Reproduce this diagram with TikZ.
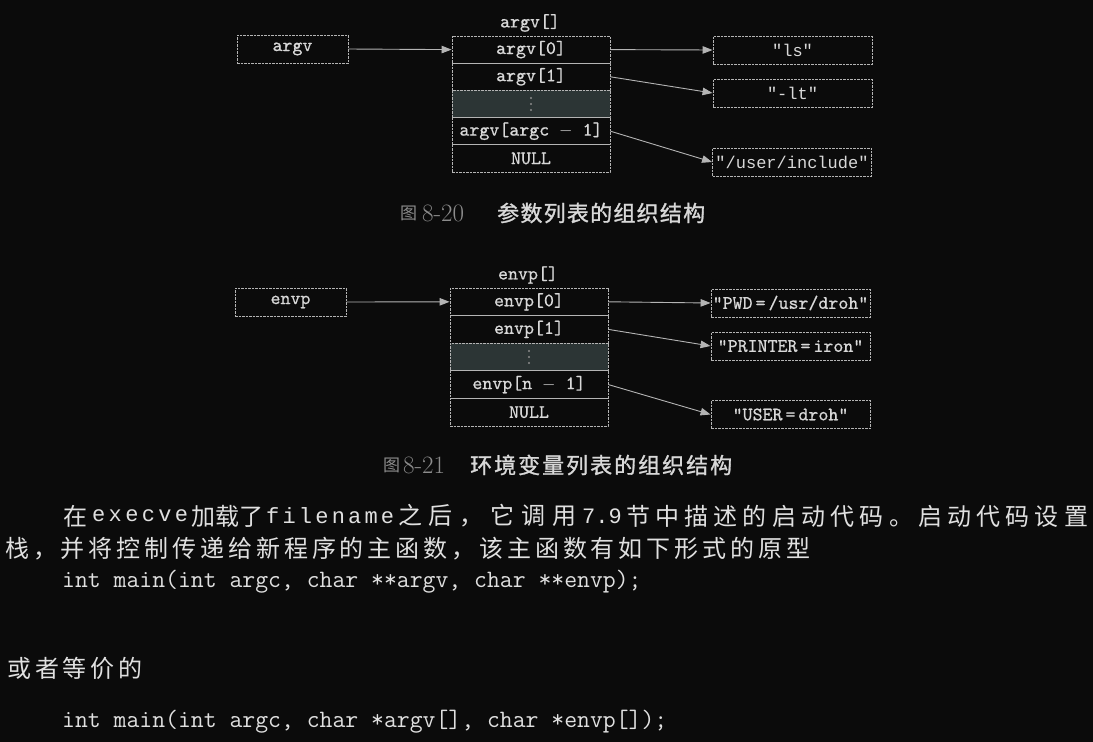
\documentclass[tikz,border=0pt]{standalone}
\usepackage{fontspec}
\usetikzlibrary{arrows.meta}
\newfontfamily\cjk{Noto Sans CJK SC}
\newfontfamily\cjkcapfont{Noto Sans CJK SC}[FakeBold=1.2]
\newfontfamily\thinmono{Liberation Mono}
\newfontfamily\diagmono{lmmono10-regular.otf}[FakeBold=0.7]
\definecolor{bg}{HTML}{0B0B0B}
\definecolor{fg}{HTML}{D8D8D8}
\definecolor{ln}{HTML}{B4B4B4}
\definecolor{cellfill}{HTML}{2C3535}
\definecolor{dim}{HTML}{8C8C8C}
\definecolor{bodyfg}{HTML}{E0E0E0}
% inter-character spacing for CJK
\newdimen\cjkgapamt \cjkgapamt=3.9pt
\newcommand\cjkgap{\hskip\cjkgapamt plus 8pt minus \cjkgapamt}
\newcount\cjkc
\cjkc="4E00
\loop \XeTeXcharclass\cjkc=5 \advance\cjkc by 1 \ifnum\cjkc<"A000 \repeat
\XeTeXcharclass"FF0C=5
\XeTeXcharclass"3002=5
\XeTeXinterchartoks 5 5 = {\cjkgap}
\XeTeXinterchartokenstate=1
\newcommand\cjkbody{\cjk\fontsize{24}{24}\selectfont}
\newcommand\cjkcap{\cjkcapfont\fontsize{22}{22}\selectfont\cjkgapamt=2pt }
\newcommand\thinbody{\thinmono\fontsize{22}{22}\selectfont}
\newcommand\codebody{\ttfamily\fontsize{25}{25}\selectfont}
\tikzset{
  lbox/.style={draw=ln, line width=0.9pt, dash pattern=on 2.5pt off 1pt, inner sep=0pt,
    text=fg, font=\diagmono\fontsize{19}{19}\selectfont, minimum height=28pt},
  cell/.style={lbox, minimum width=158pt, minimum height=27.2pt},
  darkcell/.style={cell, fill=cellfill},
  arrtitle/.style={inner sep=0pt, text=fg, font=\diagmono\fontsize{19}{19}\selectfont},
  strA/.style={lbox, minimum width=159pt, font=\thinmono\fontsize{17}{17}\selectfont},
  strB/.style={lbox, minimum width=159pt},
  ptrbox/.style={lbox, minimum width=111pt},
  arr/.style={draw=ln, line width=0.9pt, -{Triangle[length=10pt,width=7.5pt]}},
  seg/.style={anchor=west, inner sep=0pt, text=bodyfg},
  capnum/.style={anchor=west, inner sep=0pt, text=dim},
  dotmark/.style={fill=dim},
}
\begin{document}
\begin{tikzpicture}[x=1pt,y=-1pt]
\fill[bg] (0,0) rectangle (1093,742);
\useasboundingbox (0,0) rectangle (1093,742);

% ---------- Figure 8-20 ----------
\node[arrtitle] (argvt) at (530,23) {argv[]};
\node[ptrbox] (argv) at (292.5,49) {argv};
\node[cell] (a0) at (531,49.6) {argv[0]};
\node[cell] (a1) at (531,76.8) {argv[1]};
\node[darkcell] (a2) at (531,104) {};
\node[cell] (a3) at (531,131.2) {argv[argc $-$ 1]};
\node[cell] (a4) at (531,158.4) {NULL};
\fill[dotmark] (a2.center) ++(0,-6) circle (1.2) ++(0,6) circle (1.2) ++(0,6) circle (1.2);
\node[strA] (ls) at (792.5,50) {"ls"};
\node[strA] (lt) at (792.5,93) {"-lt"};
\node[strA] (inc) at (792,162) {"/user/include"};
\draw[arr] (argv.east) -- (a0.west);
\draw[arr] (a0.east) -- (ls.west);
\draw[arr] (a1.east) -- (lt.west);
\draw[arr] (a3.east) -- (inc.west);

\node[capnum] (c1a) at (400,213) {\cjk\fontsize{17}{17}\selectfont 图};
\node[capnum] (c1b) at (422,213) {\rmfamily\fontsize{25}{25}\selectfont 8-20};
\node[seg, text=fg] (c1c) at (497,213) {\cjkcap\hbox to 208pt{参数列表的组织结构}};

% ---------- Figure 8-21 ----------
\node[arrtitle] (envpt) at (528,275) {envp[]};
\node[ptrbox] (envp) at (290.5,302) {envp};
\node[cell, minimum height=27.6pt] (e0) at (529,301.8) {envp[0]};
\node[cell, minimum height=27.6pt] (e1) at (529,329.4) {envp[1]};
\node[darkcell, minimum height=27.6pt] (e2) at (529,357) {};
\node[cell, minimum height=27.6pt] (e3) at (529,384.6) {envp[n $-$ 1]};
\node[cell, minimum height=27.6pt] (e4) at (529,412.2) {NULL};
\fill[dotmark] (e2.center) ++(0,-6) circle (1.2) ++(0,6) circle (1.2) ++(0,6) circle (1.2);
\node[strB] (pwd) at (790.5,303) {"PWD\kern3pt=\kern3pt/usr/droh"};
\node[strB] (prn) at (790.5,346) {"PRINTER\kern3pt=\kern3pt iron"};
\node[strB] (usr) at (790.5,414.5) {"USER\kern3pt=\kern3pt droh"};
\draw[arr] (envp.east) -- (e0.west);
\draw[arr] (e0.east) -- (pwd.west);
\draw[arr] (e1.east) -- (prn.west);
\draw[arr] (e3.east) -- (usr.west);

\node[capnum] (c2a) at (383,465) {\cjk\fontsize{17}{17}\selectfont 图};
\node[capnum] (c2b) at (403,465) {\rmfamily\fontsize{25}{25}\selectfont 8-21};
\node[seg, text=fg] (c2c) at (470,465) {\cjkcap\hbox to 262pt{环境变量列表的组织结构}};

% ---------- body text ----------
\node[seg] (l1a) at (63,516) {\cjkbody 在};
\node[seg] (l1b) at (92,516) {\thinbody\hbox to 96pt{e\hfil x\hfil e\hfil c\hfil v\hfil e}};
\node[seg] (l1c) at (191,516) {\cjkbody\hbox to 72pt{加载了}};
\node[seg] (l1d) at (266,516) {\thinbody\hbox to 128pt{f\hfil i\hfil l\hfil e\hfil n\hfil a\hfil m\hfil e}};
\node[seg] (l1e) at (398,516) {\cjkbody\hbox to 178pt{之后，它调用}};
\node[seg] (l1f) at (582,516) {\thinbody\hbox to 38pt{7\hfil .\hfil 9}};
\node[seg] (l1g) at (626,516) {\cjkbody\hbox to 462pt{节中描述的启动代码。启动代码设置}};
\node[seg] (l2) at (5,549) {\cjkbody\hbox to 805pt{栈，并将控制传递给新程序的主函数，该主函数有如下形式的原型}};
\node[seg] (l3) at (62,582) {\codebody int main(int argc, char **argv, char **envp);};
\node[seg] (l4) at (7,668) {\cjkbody 或者等价的};
\node[seg] (l5) at (62,722) {\codebody int main(int argc, char *argv[], char *envp[]);};
\end{tikzpicture}
\end{document}
